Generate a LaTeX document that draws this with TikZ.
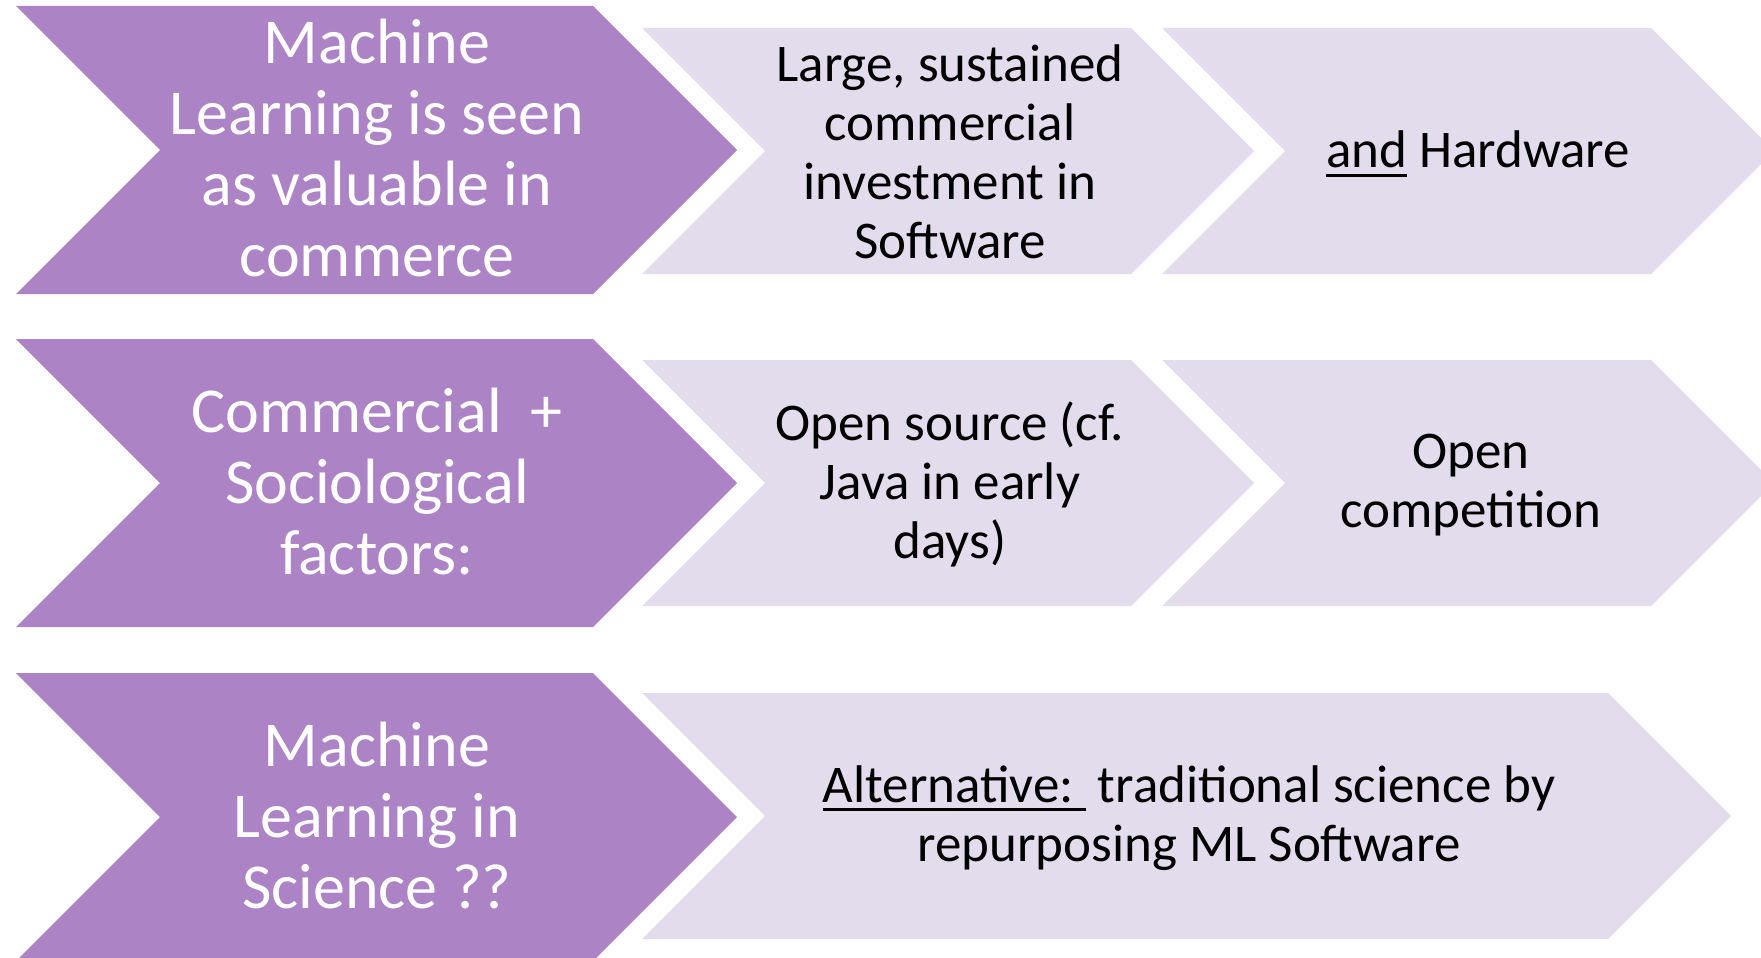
\documentclass[tikz,border=0pt]{standalone}
\usepackage{fontspec}
\setmainfont{Carlito}
\definecolor{mlpurple}{RGB}{172,132,198}
\definecolor{mllight}{RGB}{226,220,236}
% chevron: style, left edge, right edge, middle, half height (45 degree ends)
\newcommand{\chev}[5]{%
  \fill[#1] (#2,#4-#5) -- (#3,#4-#5) -- (#3+#5,#4) -- (#3,#4+#5)
    -- (#2,#4+#5) -- (#2+#5,#4) -- cycle;}
% thick underline for single words
\newcommand{\uword}[1]{\setbox0=\hbox{#1}\rlap{\rule[-9pt]{\wd0}{3.2pt}}\box0\relax}
\tikzset{lead/.style={fill=mlpurple},
  follow/.style={fill=mllight},
  leadtext/.style={text=white, align=center, font=\fontsize{64}{71}\selectfont},
  followtext/.style={text=black, align=center, font=\fontsize{53}{59}\selectfont}}

\begin{document}
\begin{tikzpicture}[x=1pt, y=-1pt]
    \useasboundingbox (0,0) rectangle (1761,958);
    \clip (0,0) rectangle (1761,958);
    \chev{lead}{16}{593}{150}{144}
    \chev{follow}{642}{1131}{151}{123}
    \chev{follow}{1162}{1651}{151}{123}
    \chev{lead}{16}{593}{483}{144}
    \chev{follow}{642}{1131}{483}{123}
    \chev{follow}{1162}{1651}{483}{123}
    \chev{lead}{16}{593}{817}{144}
    \chev{follow}{642}{1608}{816}{123}
    \node[leadtext] (p1) at (377,148) {Machine\\Learning is seen\\as valuable in\\commerce};
    \node[followtext] (s1a) at (950,152) {Large, sustained\\commercial\\investment in\\Software};
    \node[followtext] (s1b) at (1478,154) {\uword{and} Hardware};
    \node[leadtext] (p2) at (377,482) {Commercial~~+\\Sociological\\factors:};
    \node[followtext] (s2a) at (950,484) {Open source (cf.\\Java in early\\days)};
    \node[followtext] (s2b) at (1471,485) {Open\\competition};
    \node[leadtext] (p3) at (377,815) {Machine\\Learning in\\Science ??};
    \node[followtext] (s3) at (1189,818) {\uword{Alternative:\ }~traditional science by\\repurposing ML Software};
\end{tikzpicture}
\end{document}
